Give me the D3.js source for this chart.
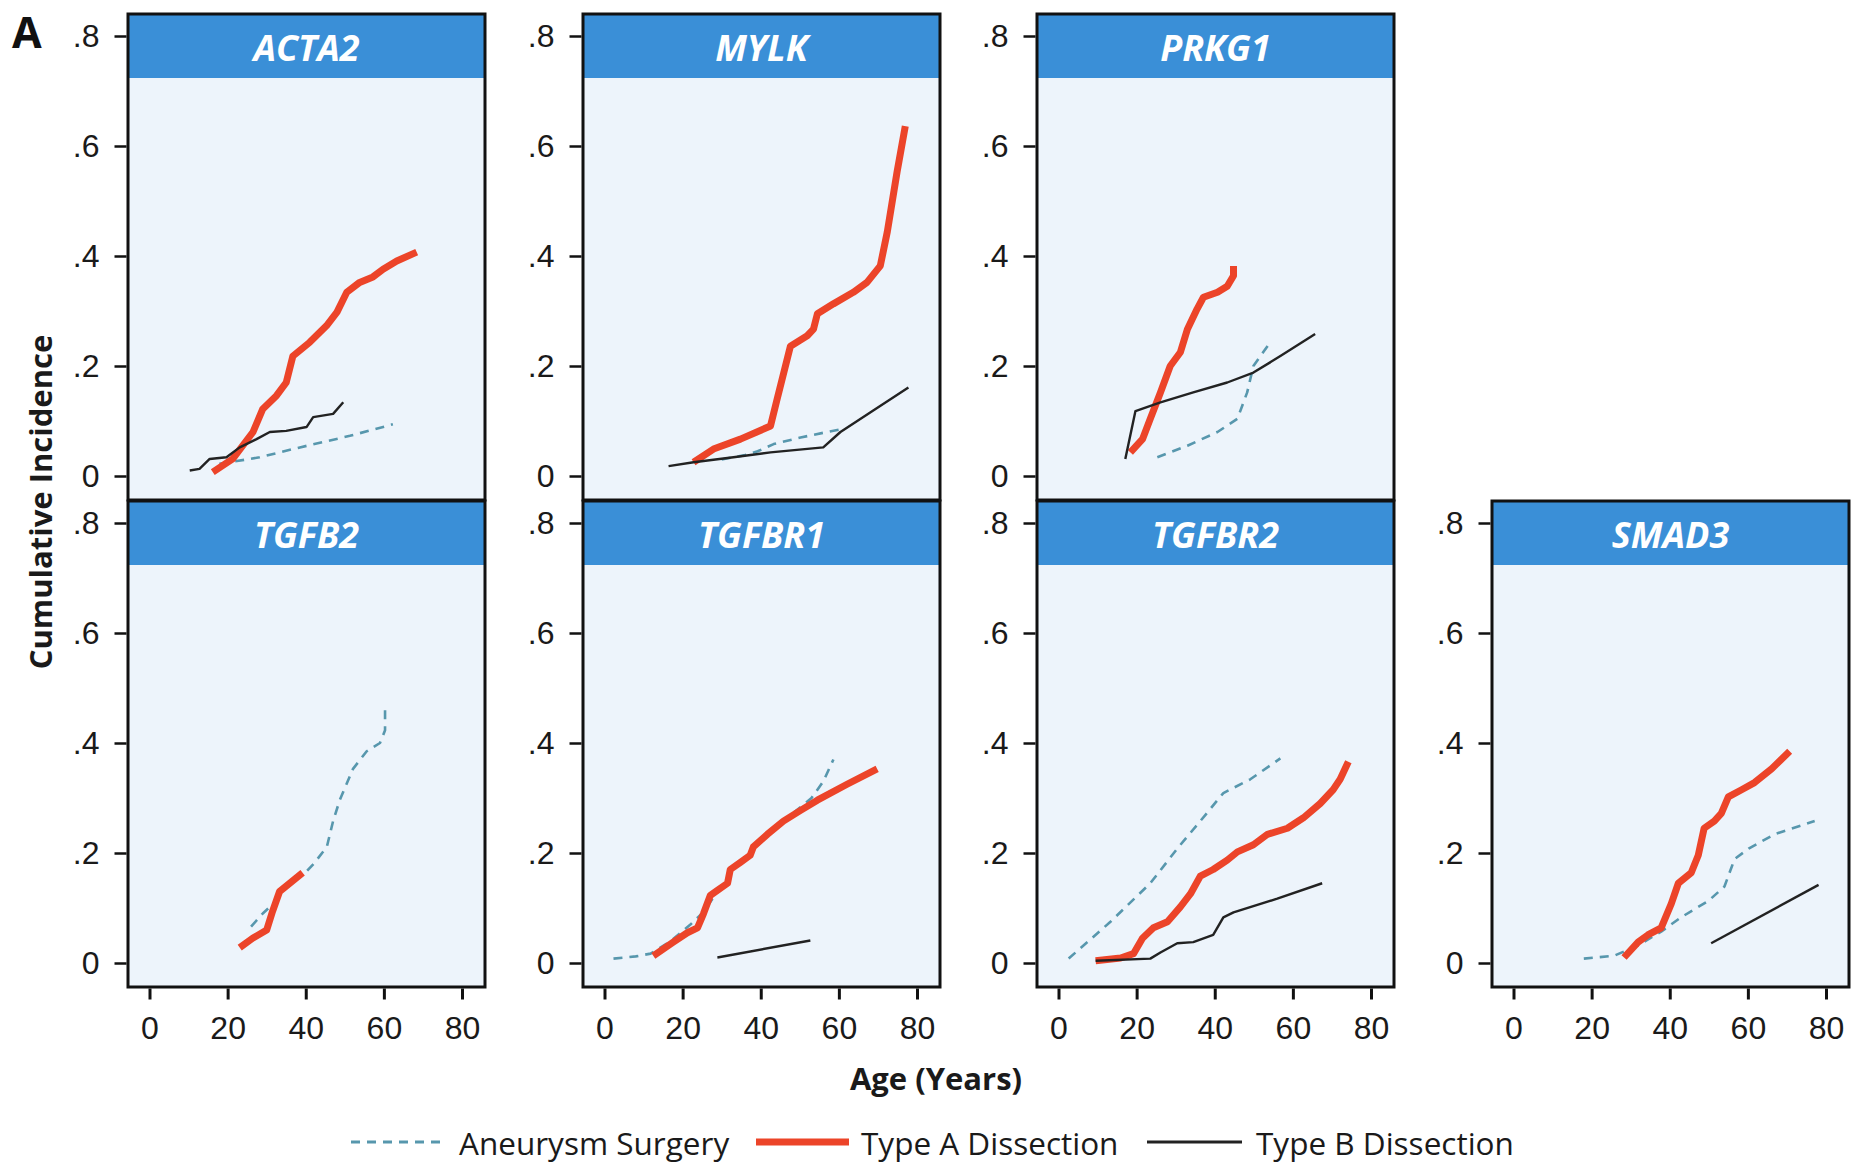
<!DOCTYPE html>
<html>
<head>
<meta charset="utf-8">
<script src="https://cdn.jsdelivr.net/npm/d3@7"></script>
<style>
  html, body { margin: 0; padding: 0; background: #ffffff; }
  svg { display: block; font-family: "Open Sans", "Noto Sans", sans-serif; }
</style>
</head>
<body>
<svg id="chart" width="1855" height="1162"></svg>
<script>
// ---------------- DATA ----------------
const genes = ["ACTA2", "MYLK", "PRKG1", "TGFB2", "TGFBR1", "TGFBR2", "SMAD3"];
const seriesNames = ["Aneurysm Surgery", "Type A Dissection", "Type B Dissection"];
const xTicks = [0, 20, 40, 60, 80];
const yTicks = [0, 0.2, 0.4, 0.6, 0.8];
const yTickLabels = ["0", ".2", ".4", ".6", ".8"];

// [age (years), cumulative incidence]
const acta2Aneurysm = [[17.9,0.022],[28.2,0.034],[38.5,0.052],[51.3,0.073],[62.3,0.094]];
const acta2TypeA = [[16.2,0.007],[21.3,0.031],[26.5,0.08],[29,0.122],[32.5,0.146],[35,0.17],[36.7,0.218],[41,0.243],[45.3,0.273],[48,0.298],[50.5,0.334],[53.8,0.352],[57.2,0.362],[59.8,0.376],[63.3,0.391],[68.4,0.407]];
const acta2TypeB = [[10.3,0.01],[12.8,0.013],[15.4,0.031],[19.7,0.034],[23.1,0.052],[27.4,0.067],[30.8,0.08],[35,0.082],[40.2,0.089],[41.9,0.107],[47,0.113],[49.6,0.134]];

const mylkAneurysm = [[30,0.03],[36,0.038],[39.2,0.045],[43.3,0.058],[50.2,0.07],[57,0.08],[61.3,0.086]];
const mylkTypeA = [[22.8,0.025],[27.9,0.049],[34.8,0.067],[42.5,0.091],[44.2,0.14],[47.6,0.236],[51.9,0.255],[53.5,0.267],[54.5,0.295],[58.6,0.313],[63.7,0.334],[67.2,0.352],[70.6,0.382],[72.4,0.444],[74.9,0.553],[77,0.636]];
const mylkTypeB = [[16.4,0.018],[22.8,0.025],[33,0.034],[42.5,0.043],[56,0.052],[60.4,0.08],[68.8,0.119],[77.8,0.161]];

const prkg1Aneurysm = [[25.3,0.034],[33,0.055],[40.7,0.08],[45.8,0.104],[48.3,0.152],[49.9,0.2],[54.2,0.243]];
const prkg1TypeA = [[18.4,0.043],[21.5,0.067],[23.5,0.104],[26.1,0.152],[28.6,0.2],[31.2,0.225],[33,0.267],[35.5,0.304],[37.1,0.325],[40.7,0.334],[43.2,0.345],[44.8,0.364],[44.8,0.382]];
const prkg1TypeB = [[17.1,0.031],[19.7,0.118],[26.1,0.134],[34.5,0.152],[43.2,0.17],[49.9,0.188],[56.8,0.218],[65.7,0.258]];

const tgfb2Aneurysm = [[26,0.066],[29,0.09],[32,0.11],[35,0.14],[40,0.165],[42,0.18],[45.4,0.211],[47,0.258],[48.7,0.296],[52.1,0.353],[55.6,0.385],[59,0.4],[60.3,0.423],[60.3,0.472]];
const tgfb2TypeA = [[23.1,0.028],[26.4,0.045],[30,0.06],[31.5,0.094],[33.3,0.13],[35.9,0.145],[39.2,0.164]];
const tgfb2TypeB = [];

const tgfbr1Aneurysm = [[2.3,0.008],[8,0.012],[11.8,0.017],[17,0.04],[22,0.07],[25,0.09],[28,0.12],[33,0.17],[40,0.22],[47,0.265],[53,0.3],[56,0.33],[58.6,0.37]];
const tgfbr1TypeA = [[12.5,0.013],[17.6,0.038],[21.2,0.055],[23.8,0.064],[25.3,0.089],[27.1,0.123],[28.9,0.132],[31.5,0.145],[32.2,0.17],[34.8,0.183],[37.3,0.196],[38.1,0.211],[41.7,0.234],[45.8,0.258],[50.1,0.277],[54.5,0.296],[62.1,0.325],[69.8,0.353]];
const tgfbr1TypeB = [[28.9,0.01],[52.7,0.041]];

const tgfbr2Aneurysm = [[2.6,0.008],[13.3,0.075],[23.5,0.145],[30.4,0.208],[36.3,0.258],[42.2,0.309],[49.1,0.334],[56.8,0.372]];
const tgfbr2TypeA = [[9.5,0.004],[15.9,0.009],[19.2,0.017],[21.5,0.045],[24.3,0.064],[27.9,0.075],[31.2,0.102],[33.8,0.126],[36.3,0.158],[39.6,0.17],[43.2,0.187],[45.8,0.202],[49.9,0.215],[53.5,0.234],[58.6,0.245],[62.7,0.264],[67,0.29],[70.3,0.315],[72.1,0.334],[74.2,0.366]];
const tgfbr2TypeB = [[9.5,0.004],[23.5,0.008],[26.1,0.019],[30.4,0.036],[34.5,0.038],[39.6,0.051],[42.2,0.083],[44.8,0.092],[56,0.117],[67.5,0.145]];

const smad3Aneurysm = [[18,0.008],[25.7,0.013],[31.9,0.032],[37.8,0.057],[42.9,0.083],[49.9,0.113],[54,0.139],[56.6,0.189],[60.2,0.208],[66.8,0.234],[77.1,0.258]];
const smad3TypeA = [[28.3,0.01],[31.9,0.038],[34.4,0.051],[37.8,0.064],[40.4,0.108],[42.2,0.145],[45.5,0.164],[47.3,0.196],[48.8,0.245],[51.4,0.258],[53.2,0.272],[55,0.302],[58.4,0.315],[61.7,0.328],[66.1,0.353],[70.7,0.385]];
const smad3TypeB = [[50.6,0.036],[78.1,0.142]];

const panelSeries = {
  ACTA2:  [acta2Aneurysm, acta2TypeA, acta2TypeB],
  MYLK:   [mylkAneurysm, mylkTypeA, mylkTypeB],
  PRKG1:  [prkg1Aneurysm, prkg1TypeA, prkg1TypeB],
  TGFB2:  [tgfb2Aneurysm, tgfb2TypeA, tgfb2TypeB],
  TGFBR1: [tgfbr1Aneurysm, tgfbr1TypeA, tgfbr1TypeB],
  TGFBR2: [tgfbr2Aneurysm, tgfbr2TypeA, tgfbr2TypeB],
  SMAD3:  [smad3Aneurysm, smad3TypeA, smad3TypeB]
};

// ---------------- LAYOUT / STYLE ----------------
const panelPos = {
  ACTA2: [0, 0], MYLK: [1, 0], PRKG1: [2, 0],
  TGFB2: [0, 1], TGFBR1: [1, 1], TGFBR2: [2, 1], SMAD3: [3, 1]
};
const colLeft = [128, 583, 1037, 1492];
const rowTop = [14, 501];
const frameW = 357, frameH = 486, headerH = 64;

const styles = [
  { color: "#5797ad", width: 2.6, dash: "9,7" },
  { color: "#ec4429", width: 7, dash: null },
  { color: "#222222", width: 2.4, dash: null }
];

const svg = d3.select("#chart");
const line = d3.line();

genes.forEach(g => {
  const [c, r] = panelPos[g];
  const left = colLeft[c], top = rowTop[r];
  const bottom = top + frameH;
  const x = d3.scaleLinear().domain([0, 80]).range([left + 21.5, left + 334]);
  const y = d3.scaleLinear().domain([0, 0.8]).range([bottom - 24, bottom - 464]);

  const p = svg.append("g");
  // background
  p.append("rect").attr("x", left).attr("y", top).attr("width", frameW).attr("height", frameH)
    .attr("fill", "#edf4fb");
  // header band
  p.append("rect").attr("x", left).attr("y", top).attr("width", frameW).attr("height", headerH)
    .attr("fill", "#3a8fd7");
  p.append("text").attr("x", left + frameW / 2).attr("y", top + headerH / 2 + 1)
    .attr("text-anchor", "middle").attr("dominant-baseline", "central")
    .attr("fill", "#ffffff").attr("font-weight", 700).attr("font-style", "italic")
    .attr("font-size", 36).text(g);

  // series
  line.x(d => x(d[0])).y(d => y(d[1]));
  panelSeries[g].forEach((data, i) => {
    if (!data.length) return;
    p.append("path").datum(data).attr("d", line)
      .attr("fill", "none").attr("stroke", styles[i].color)
      .attr("stroke-width", styles[i].width)
      .attr("stroke-dasharray", styles[i].dash)
      .attr("stroke-linejoin", "round").attr("stroke-linecap", "butt");
  });

  // frame
  p.append("rect").attr("x", left).attr("y", top).attr("width", frameW).attr("height", frameH)
    .attr("fill", "none").attr("stroke", "#111").attr("stroke-width", 3);

  // y axis
  const ya = p.append("g").attr("transform", `translate(${left - 1.5},0)`)
    .call(d3.axisLeft(y).tickValues(yTicks).tickSize(12).tickPadding(15)
      .tickFormat((d, i) => yTickLabels[i]));
  ya.select(".domain").remove();
  ya.selectAll(".tick line").attr("stroke", "#111").attr("stroke-width", 2.5);
  ya.selectAll(".tick text").attr("font-size", 32).attr("fill", "#1a1a1a");

  // x axis on bottom row
  if (r === 1) {
    const xa = p.append("g").attr("transform", `translate(0,${bottom + 1.5})`)
      .call(d3.axisBottom(x).tickValues(xTicks).tickSize(11).tickPadding(17));
    xa.select(".domain").remove();
    xa.selectAll(".tick line").attr("stroke", "#111").attr("stroke-width", 3);
    xa.selectAll(".tick text").attr("font-size", 32).attr("fill", "#1a1a1a");
  }
});

// panel letter
svg.append("text").attr("x", 12).attr("y", 48).attr("font-size", 43).attr("font-weight", 700)
  .attr("fill", "#111").text("A");

// axis titles
svg.append("text").attr("transform", "translate(52,502) rotate(-90)")
  .attr("text-anchor", "middle").attr("font-size", 31).attr("font-weight", 700)
  .attr("fill", "#1a1a1a").text("Cumulative Incidence");
svg.append("text").attr("x", 936).attr("y", 1090)
  .attr("text-anchor", "middle").attr("font-size", 31).attr("font-weight", 700)
  .attr("fill", "#1a1a1a").text("Age (Years)");

// legend
const legendItems = [
  { x1: 351, x2: 444, tx: 459 },
  { x1: 756, x2: 849, tx: 861 },
  { x1: 1147, x2: 1242, tx: 1256 }
];
const ly = 1142;
legendItems.forEach((it, i) => {
  svg.append("line").attr("x1", it.x1).attr("x2", it.x2).attr("y1", ly).attr("y2", ly)
    .attr("stroke", styles[i].color).attr("stroke-width", i === 1 ? 7 : 3)
    .attr("stroke-dasharray", i === 0 ? "9,7" : null);
  svg.append("text").attr("x", it.tx).attr("y", ly).attr("dominant-baseline", "central")
    .attr("font-size", 31.5).attr("fill", "#1a1a1a").text(seriesNames[i]);
});
</script>
</body>
</html>
